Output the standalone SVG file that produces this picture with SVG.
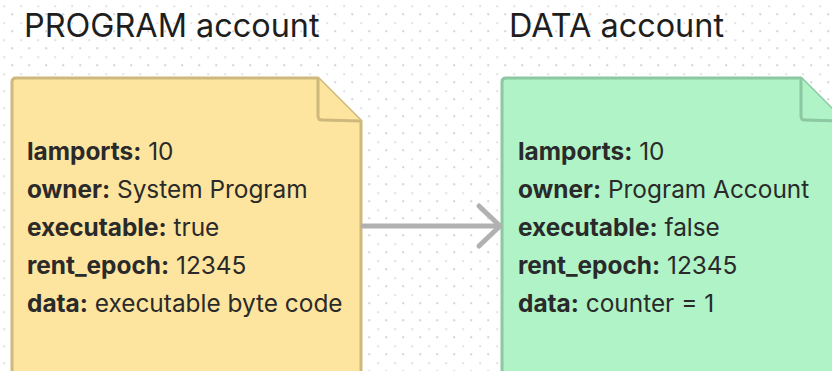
<svg xmlns="http://www.w3.org/2000/svg" width="832" height="371" viewBox="0 0 832 371">
  <defs>
    <pattern id="dots" patternUnits="userSpaceOnUse" x="3.5" y="5.5" width="17" height="17">
      <rect x="8" y="8" width="1.3" height="1.3" fill="#9a9a9a"/>
      <rect x="0" y="0" width="1.3" height="1.3" fill="#b8b8b8"/>
    </pattern>
  </defs>
  <style>
    .title { font-family: Inter, "Liberation Sans", sans-serif; font-size: 32.4px; fill: #1e1e1e; }
    .body { font-family: Inter, "Liberation Sans", sans-serif; font-size: 24.4px; fill: #2a2a2a; }
    .body .k { font-weight: 700; }
    .yellow { fill: #fee59f; stroke: #ceb87b; stroke-width: 3; stroke-linejoin: round; }
    .green { fill: #aff3c7; stroke: #8cc8a1; stroke-width: 3; stroke-linejoin: round; }
    .edge { fill: none; stroke: #b1b1b1; stroke-width: 5; stroke-linecap: round; stroke-linejoin: round; }
  </style>

  <rect width="832" height="371" fill="#ffffff"/>
  <rect width="832" height="371" fill="url(#dots)"/>

  <g id="program-account">
    <text class="title" x="24" y="37">PROGRAM account</text>
    <path class="yellow" d="M12,82 Q12,78 16,78 L318,78 L361,121 L361,380 L12,380 Z"/>
    <path class="yellow" d="M318,78 L318,116 Q318,120 322,120 L361,121" fill="none"/>
    <text class="body" x="27" y="160"><tspan class="k">lamports:</tspan> 10</text>
    <text class="body" x="27" y="198"><tspan class="k">owner:</tspan> System Program</text>
    <text class="body" x="27" y="236"><tspan class="k">executable:</tspan> true</text>
    <text class="body" x="27" y="274"><tspan class="k">rent_epoch:</tspan> 12345</text>
    <text class="body" x="27" y="312"><tspan class="k">data:</tspan> executable byte code</text>
  </g>

  <g id="data-account">
    <text class="title" x="509" y="37">DATA account</text>
    <path class="green" d="M502,82 Q502,78 506,78 L801,78 L844,121 L844,380 L502,380 Z"/>
    <path class="green" d="M801,78 L801,116 Q801,120 805,120 L844,121" fill="none"/>
    <text class="body" x="518" y="160"><tspan class="k">lamports:</tspan> 10</text>
    <text class="body" x="518" y="198"><tspan class="k">owner:</tspan> Program Account</text>
    <text class="body" x="518" y="236"><tspan class="k">executable:</tspan> false</text>
    <text class="body" x="518" y="274"><tspan class="k">rent_epoch:</tspan> 12345</text>
    <text class="body" x="518" y="312"><tspan class="k">data:</tspan> counter = 1</text>
  </g>

  <g id="connectors">
    <line class="edge" x1="363" y1="226" x2="500" y2="226"/>
    <path class="edge" d="M479,206 L500,226 L479,246"/>
  </g>
</svg>
